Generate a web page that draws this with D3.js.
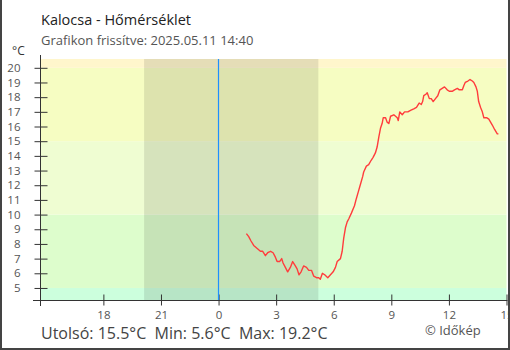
<!DOCTYPE html>
<html><head><meta charset="utf-8">
<script src="https://cdn.jsdelivr.net/npm/d3@7"></script>
<style>body{margin:0;background:#fff}svg{display:block}text{font-family:"Open Sans",sans-serif}</style>
</head><body>
<script>
// hours relative to midnight of 2025.05.11
const hours = [1.45,1.57,1.69,1.83,2.0,2.18,2.3,2.44,2.56,2.71,2.84,2.96,3.05,3.18,3.29,3.36,3.48,3.6,3.74,3.86,4.0,4.09,4.19,4.3,4.43,4.58,4.7,4.84,4.96,5.1,5.22,5.3,5.41,5.53,5.69,5.83,5.97,6.09,6.18,6.35,6.44,6.52,6.61,6.7,6.78,6.92,7.08,7.18,7.29,7.4,7.51,7.56,7.7,7.82,7.95,8.05,8.17,8.26,8.35,8.44,8.52,8.58,8.7,8.78,8.87,8.96,9.13,9.22,9.31,9.36,9.44,9.57,9.69,9.86,10.0,10.17,10.31,10.45,10.56,10.63,10.69,10.8,10.87,10.98,11.08,11.18,11.3,11.42,11.53,11.65,11.77,11.91,12.02,12.17,12.29,12.44,12.54,12.7,12.78,12.85,12.99,13.1,13.22,13.3,13.41,13.48,13.55,13.65,13.74,13.82,13.96,14.08,14.17,14.26,14.38,14.52,14.58];
const temps = [8.7,8.5,8.2,7.9,7.7,7.5,7.5,7.2,7.4,7.5,7.4,7.1,6.8,6.8,7.0,6.7,6.4,6.1,6.4,6.8,6.5,6.3,5.9,6.1,6.5,6.4,6.2,6.2,5.8,5.7,5.7,5.6,6.0,5.9,5.7,5.9,6.1,6.4,6.8,7.0,7.5,8.4,9.1,9.5,9.7,10.1,10.6,11.1,11.6,12.1,12.6,12.9,13.3,13.4,13.7,13.9,14.2,14.6,15.3,15.9,16.2,16.6,16.6,16.3,16.2,16.7,16.8,16.7,16.6,16.4,17.0,16.8,17.0,17.0,17.1,17.2,17.3,17.6,17.5,17.7,18.1,18.2,18.3,17.9,17.9,17.7,17.9,18.1,18.5,18.6,18.7,18.5,18.4,18.4,18.5,18.6,18.5,18.5,18.8,19.0,19.1,19.2,19.1,19.0,18.7,18.4,17.7,17.3,17.0,16.6,16.6,16.5,16.3,16.1,15.8,15.5,15.5];
const xTickHours = [-6,-3,0,3,6,9,12,15];
const xTickLabels = ["18","21","0","3","6","9","12","15"];
const yTicks = [5,6,7,8,9,10,11,12,13,14,15,16,17,18,19,20];
const bandEdges = [5,10,15,20];
const bandColors = ["#ccffdd","#ddfdcc","#effdd2","#f6fdc2","#fff6cc"];
const night = [-3.88, 5.2];
const title = "Kalocsa - Hőmérséklet";
const subtitle = "Grafikon frissítve: 2025.05.11 14:40";
const footer = "Utolsó: 15.5°C  Min: 5.6°C  Max: 19.2°C";
const credit = "© Időkép";

const W = 510, H = 350;
const L = 41, R = 506.5, T = 59, B = 300;
const svg = d3.select("body").append("svg").attr("width", W).attr("height", H);

const x = d3.scaleLinear().domain([-9.25, 15.0]).range([L, R]);
const y = d3.scaleLinear().domain([4.18, 20.6]).range([B, T]);

// bands
const lims = [y.domain()[0], ...bandEdges, y.domain()[1]];
bandColors.forEach((c, i) => {
  svg.append("rect").attr("x", L).attr("width", R - L)
    .attr("y", y(lims[i+1])).attr("height", y(lims[i]) - y(lims[i+1])).attr("fill", c);
});
// night
svg.append("rect").attr("x", x(night[0])).attr("width", x(night[1]) - x(night[0]))
  .attr("y", T).attr("height", B - T).attr("fill", "rgba(0,0,0,0.1)");

// data line
const line = d3.line().x((d, i) => x(hours[i])).y(d => y(d));
svg.append("path").datum(temps).attr("d", line).attr("fill", "none")
  .attr("stroke", "#ff3c3c").attr("stroke-width", 1.4).attr("stroke-linejoin", "round");

// axes
const axisColor = "#333";
const yAxis = svg.append("g").attr("transform", `translate(${L - 0.5},0)`)
  .call(d3.axisLeft(y).tickValues(yTicks).tickSize(6).tickFormat(d => d));
yAxis.select(".domain").remove();
yAxis.selectAll(".tick line").attr("x1", -6).attr("x2", 7).attr("stroke", axisColor);
yAxis.selectAll(".tick text").attr("x", -20).attr("fill", "#555").style("font-size", "11.5px").style("font-family", "Open Sans");
svg.append("line").attr("x1", L - 0.5).attr("x2", L - 0.5).attr("y1", 55).attr("y2", 306).attr("stroke", axisColor);

const xAxis = svg.append("g").attr("transform", `translate(0,${B + 0.5})`)
  .call(d3.axisBottom(x).tickValues(xTickHours).tickSize(6).tickFormat((d, i) => xTickLabels[i]));
xAxis.select(".domain").remove();
xAxis.selectAll(".tick line").attr("y1", -6).attr("y2", 5).attr("stroke", axisColor);
xAxis.selectAll(".tick text").attr("y", 10).attr("fill", "#555").style("font-size", "11.5px").style("font-family", "Open Sans");
svg.append("line").attr("x1", 33).attr("x2", R + 1).attr("y1", B + 0.5).attr("y2", B + 0.5).attr("stroke", axisColor);

// midnight line (drawn on top)
const mx = Math.floor(x(0)) + 0.5;
svg.append("line").attr("x1", mx).attr("x2", mx)
  .attr("y1", T).attr("y2", B).attr("stroke", "#1e90ff").attr("stroke-width", 1.2);

// texts
svg.append("text").attr("x", 41).attr("y", 25).attr("fill", "#222").style("font-size", "14.5px").text(title);
svg.append("text").attr("x", 41).attr("y", 45).attr("fill", "#555").style("font-size", "13px").text(subtitle);
svg.append("text").attr("x", 12).attr("y", 55).attr("fill", "#333").style("font-size", "12px").text("°C");
svg.append("text").attr("x", 41).attr("y", 339).attr("fill", "#444").style("font-size", "16px").attr("xml:space", "preserve").style("white-space", "pre").text(footer);
svg.append("text").attr("x", 425).attr("y", 335).attr("fill", "#555").style("font-size", "13px").text(credit);

// frame
svg.append("path").attr("d", `M1,0 V${H-1} H${W-1} V0`).attr("fill", "none").attr("stroke", "#444").attr("stroke-width", 2);
</script>
</body></html>
